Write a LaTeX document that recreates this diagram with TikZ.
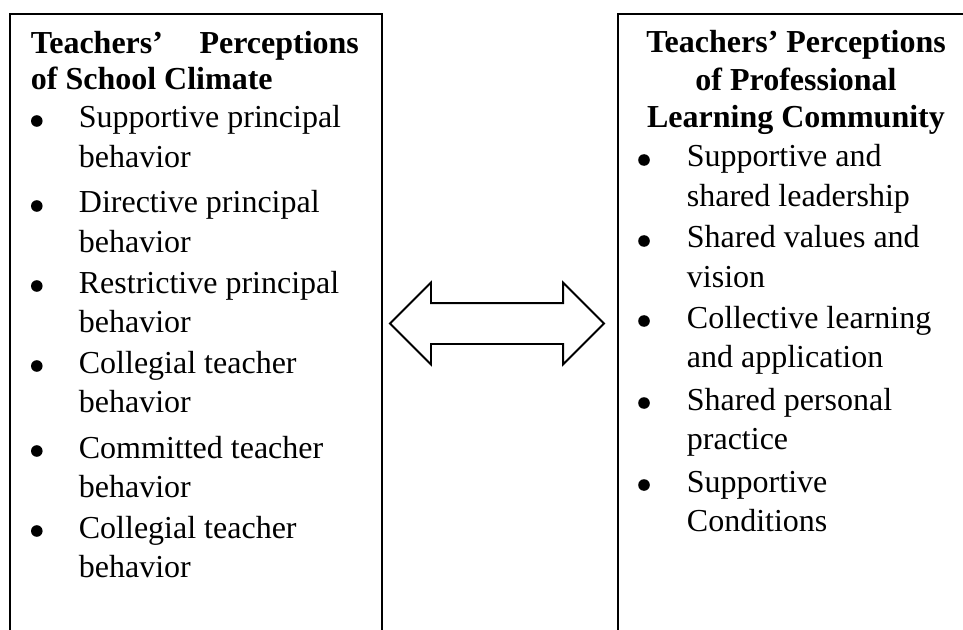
\documentclass[tikz,border=0pt]{standalone}
\usepackage{fontspec}
\setmainfont{Liberation Serif}
\usepackage{tikz}
\usetikzlibrary{calc}
\usetikzlibrary{shapes}

\begin{document}
\begin{tikzpicture}
[x=1bp,y=-1bp,line width=1.8bp,
 panel/.style={draw,rectangle,anchor=north west,inner sep=0pt,minimum height=700bp},
 item/.style={anchor=base west,inner sep=0pt,align=left,font=\fontsize{32bp}{39.5bp}\selectfont},
 head/.style={inner sep=0pt,font=\fontsize{32bp}{37.5bp}\selectfont\bfseries}]

\useasboundingbox (0,0) rectangle (963,630);
\clip (0,0) rectangle (963,630);

\node[panel,minimum width=372bp] (climate) at (9,13) {}; %left box
\node[panel,minimum width=400bp] (plc) at (617,13) {}; %right box

% multi-line nodes sit on the baseline of their last line
\node[head,anchor=base west,align=left,font=\fontsize{32bp}{36bp}\selectfont\bfseries]
  (climatehead) at (30,90)
  {\makebox[328bp][s]{Teachers' Perceptions}\\of School Climate};
\node[head,anchor=base,align=center] (plchead) at (796,128)
  {Teachers' Perceptions\\of Professional\\Learning Community};

\foreach \y/\txt [count=\i] in {128/{Supportive principal\\behavior},
  213/{Directive principal\\behavior}, 293/{Restrictive principal\\behavior},
  373/{Collegial teacher\\behavior}, 458/{Committed teacher\\behavior},
  538/{Collegial teacher\\behavior}}
{
  \fill (36.8,\y-7) circle (5.8bp);
  \node[item] (sc\i) at (78,\y+39.5) {\txt};
}

\foreach \y/\txt [count=\i] in {167/{Supportive and\\shared leadership},
  248/{Shared values and\\vision}, 328/{Collective learning\\and application},
  410/{Shared personal\\practice}, 492/{Supportive\\Conditions}}
{
  \fill (644,\y-7) circle (5.8bp);
  \node[item] (pl\i) at (686,\y+39.5) {\txt};
}

\node[double arrow,draw,inner xsep=0pt,inner ysep=19.5bp,
  double arrow head extend=20.5bp,minimum height=214bp] (link) at (497,323.5) {}; %arrow

\end{tikzpicture}
\end{document}
